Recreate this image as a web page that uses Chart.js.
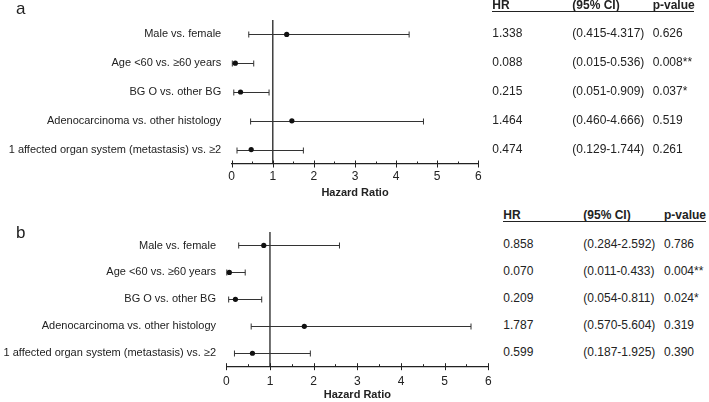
<!DOCTYPE html>
<html><head><meta charset="utf-8">
<script src="https://cdn.jsdelivr.net/npm/chart.js@4/dist/chart.umd.min.js"></script>
<style>
html,body{margin:0;padding:0;background:#fff;}
#wrap{position:relative;width:709px;height:402px;overflow:hidden;font-family:"Liberation Sans",Arial,sans-serif;color:#222;background:#fff;}
canvas{position:absolute;left:0;}
.t{position:absolute;white-space:nowrap;font-size:12px;line-height:12px;}
.hdr{font-weight:bold;}
.letter{position:absolute;font-size:17px;line-height:17px;}
.uline{position:absolute;height:0;border-top:1px solid #222;}
</style></head><body>
<div id="wrap">
  <canvas id="cA" width="500" height="200" style="top:0"></canvas>
  <canvas id="cB" width="500" height="202" style="top:200px"></canvas>
</div>
<script>
// ---- data ----
const categories = [
  "Male vs. female",
  "Age <60 vs. \u226560 years",
  "BG O vs. other BG",
  "Adenocarcinoma vs. other histology",
  "1 affected organ system (metastasis) vs. \u22652"
];
const hrA = [1.338, 0.088, 0.215, 1.464, 0.474];
const loA = [0.415, 0.015, 0.051, 0.460, 0.129];
const hiA = [4.317, 0.536, 0.909, 4.666, 1.744];
const pA  = ["0.626", "0.008**", "0.037*", "0.519", "0.261"];

const hrB = [0.858, 0.070, 0.209, 1.787, 0.599];
const loB = [0.284, 0.011, 0.054, 0.570, 0.187];
const hiB = [2.592, 0.433, 0.811, 5.604, 1.925];
const pB  = ["0.786", "0.004**", "0.024*", "0.319", "0.390"];

const xTickValues = [0, 1, 2, 3, 4, 5, 6];
const headers = ["HR", "(95% CI)", "p-value"];
const panelLetters = ["a", "b"];

const FONT = '"Liberation Sans", Arial, sans-serif';
const INK = '#222';

const forestPlugin = {
  id: 'forest',
  beforeDatasetsDraw(chart) {
    const {ctx, chartArea, scales: {x, y}} = chart;
    const f = chart.options.plugins.forest;
    ctx.save();
    // reference line at HR = 1
    ctx.strokeStyle = INK;
    ctx.lineWidth = 1.3;
    const px1 = x.getPixelForValue(1);
    ctx.beginPath();
    ctx.moveTo(px1, chartArea.top);
    ctx.lineTo(px1, chartArea.bottom);
    ctx.stroke();
    // CI bars
    ctx.strokeStyle = '#333';
    ctx.lineWidth = 1;
    f.lo.forEach((lo, i) => {
      const yy = Math.round(y.getPixelForValue(i)) + 0.5;
      const xl = x.getPixelForValue(lo), xh = x.getPixelForValue(f.hi[i]);
      ctx.beginPath();
      ctx.moveTo(xl, yy); ctx.lineTo(xh, yy);
      ctx.moveTo(xl, yy - 3); ctx.lineTo(xl, yy + 3);
      ctx.moveTo(xh, yy - 3); ctx.lineTo(xh, yy + 3);
      ctx.stroke();
    });
    ctx.restore();
  },
  afterDraw(chart) {
    const {ctx, chartArea, scales: {x}} = chart;
    ctx.save();
    ctx.strokeStyle = INK;
    ctx.lineWidth = 1;
    const b = chartArea.bottom;
    for (let v = x.min; v <= x.max + 1e-9; v += 0.5) {
      const px = Math.round(x.getPixelForValue(v)) + 0.5;
      ctx.beginPath();
      if (Number.isInteger(v)) { ctx.moveTo(px, b - 3.5); ctx.lineTo(px, b + 3.5); }
      else { ctx.moveTo(px, b - 2.5); ctx.lineTo(px, b); }
      ctx.stroke();
    }
    ctx.restore();
  }
};

function makeChart(id, hr, lo, hi, L) {
  return new Chart(document.getElementById(id), {
    type: 'scatter',
    data: {
      datasets: [{
        data: hr.map((v, i) => ({x: v, y: i})),
        pointRadius: 2.6,
        pointHoverRadius: 2.6,
        backgroundColor: '#111',
        borderWidth: 0
      }]
    },
    options: {
      responsive: false,
      animation: false,
      events: [],
      layout: {padding: {left: 0, right: L.padRight, top: L.padTop, bottom: 0}},
      plugins: {legend: {display: false}, tooltip: {enabled: false}, forest: {lo, hi}},
      scales: {
        x: {
          type: 'linear', min: 0, max: 6,
          afterBuildTicks: s => { s.ticks = xTickValues.map(v => ({value: v})); },
          afterFit: s => { s.height = L.xHeight; },
          ticks: {font: {family: FONT, size: 12}, color: INK, padding: L.tickPad, autoSkip: false, maxRotation: 0},
          grid: {display: false, drawTicks: false},
          border: {display: true, color: INK, width: 1.2},
          title: {display: true, text: 'Hazard Ratio', font: {family: FONT, size: 11, weight: 'bold'}, color: INK, padding: {top: 0, bottom: 0}}
        },
        y: {
          type: 'linear', min: -0.5, max: 4.5, reverse: true,
          afterBuildTicks: s => { s.ticks = categories.map((_, i) => ({value: i})); },
          afterFit: s => { s.width = L.yWidth; },
          ticks: {callback: v => categories[v], font: {family: FONT, size: 11}, color: INK, padding: L.labelPad, autoSkip: false},
          grid: {display: false, drawTicks: false},
          border: {display: false}
        }
      }
    },
    plugins: [forestPlugin]
  });
}

const chartA = makeChart('cA', hrA, loA, hiA, {padRight: 21.7, padTop: 20, xHeight: 36, yWidth: 231.7, tickPad: 5.5, labelPad: 10.5});
const chartB = makeChart('cB', hrB, loB, hiB, {padRight: 11.7, padTop: 32, xHeight: 35.3, yWidth: 226.3, tickPad: 7.4, labelPad: 10.3});

// ---- tables (HTML text), rows aligned with the chart's own y scale ----
const wrap = document.getElementById('wrap');
function addDiv(cls, text, left, top, extra) {
  const d = document.createElement('div');
  d.className = cls;
  d.textContent = text;
  d.style.left = left + 'px';
  d.style.top = top + 'px';
  if (extra) Object.assign(d.style, extra);
  wrap.appendChild(d);
  return d;
}
function fmtCI(lo, hi) { return '(' + lo.toFixed(3) + '-' + hi.toFixed(3) + ')'; }

function addTable(chart, offsetTop, hr, lo, hi, p, cols, hdrTop, ulineTop, ulineRight, letter, letterPos) {
  const y = chart.scales.y;
  headers.forEach((h, k) => addDiv('t hdr', h, cols[k], hdrTop));
  const u = document.createElement('div');
  u.className = 'uline';
  u.style.left = cols[0] + 'px';
  u.style.top = ulineTop + 'px';
  u.style.width = (ulineRight - cols[0]) + 'px';
  wrap.appendChild(u);
  hr.forEach((v, i) => {
    const top = offsetTop + y.getPixelForValue(i) - 7;
    addDiv('t', v.toFixed(3), cols[0], top);
    addDiv('t', fmtCI(lo[i], hi[i]), cols[1], top);
    addDiv('t', p[i], cols[2], top);
  });
  addDiv('letter', letter, letterPos[0], letterPos[1]);
}
addTable(chartA, 0, hrA, loA, hiA, pA, [492.3, 572.3, 652.7], -0.7, 10.5, 694.5, panelLetters[0], [16, -0.4]);
addTable(chartB, 200, hrB, loB, hiB, pB, [503.3, 583.3, 664], 209.3, 220.5, 706, panelLetters[1], [16, 223.6]);
</script>
</body></html>
